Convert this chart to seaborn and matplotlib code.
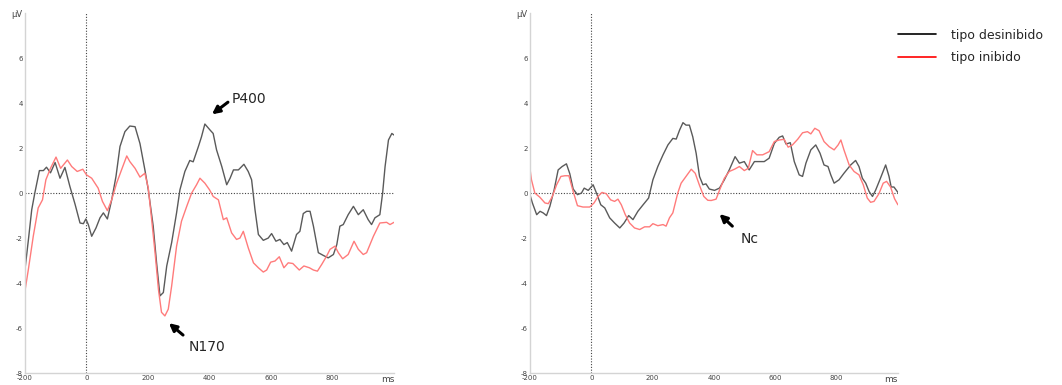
"""ERP waveforms: tipo desinibido vs tipo inibido (two electrodes)."""

import matplotlib

matplotlib.use("Agg")
import matplotlib.pyplot as plt
import pandas as pd
import seaborn as sns
from matplotlib.lines import Line2D

sns.set_theme(style="white")
plt.rcParams["font.family"] = ["DejaVu Sans"]

GROUPS = ["tipo desinibido", "tipo inibido"]
LINE_COLORS = {"tipo desinibido": "#5a5a5a", "tipo inibido": "#ff7b7b"}
LEGEND_COLORS = ["#000000", "#ff0000"]

XTICKS = [-200, 0, 200, 400, 600, 800, 1000]
XTICK_LABELS = ["-200", "0", "200", "400", "600", "800", "ms"]
YTICKS = [-8, -6, -4, -2, 0, 2, 4, 6, 8]
YTICK_LABELS = ["-8", "-6", "-4", "-2", "0", "2", "4", "6", "µV"]

# left panel
left_des_t = [-200, -189, -178, -168, -153, -140, -130, -117, -102, -86, -70, -54, -37, -21, -10,
              -2, 6, 17, 31, 44, 55, 68, 82, 96, 109, 125, 141, 158, 174, 190, 201, 217, 228, 239,
              250, 261, 277, 293, 304, 320, 336, 347, 364, 374, 385, 402, 412, 423, 440, 456, 467,
              478, 494, 512, 526, 537, 548, 559, 575, 591, 602, 616, 629, 642, 653, 667, 683, 694,
              705, 716, 727, 738, 754, 770, 786, 803, 814, 824, 835, 851, 868, 884, 900, 916, 927,
              938, 954, 963, 971, 982, 993, 1000]
left_des_v = [-3.4, -2.1, -0.74, 0, 1.0, 1.0, 1.15, 0.9, 1.36, 0.66, 1.14, 0.3, -0.5, -1.33, -1.36,
              -1.15, -1.4, -1.92, -1.55, -1.1, -0.88, -1.15, -0.3, 0.74, 2.07, 2.73, 2.98, 2.95, 2.2,
              1.03, 0.15, -1.47, -3.1, -4.57, -4.42, -3.24, -2.2, -0.88, 0.15, 0.96, 1.45, 1.39, 2.07,
              2.5, 3.07, 2.8, 2.65, 1.92, 1.18, 0.37, 0.66, 1.03, 1.03, 1.28, 0.96, 0.59, -0.74, -1.84,
              -2.1, -2.0, -1.8, -2.14, -2.06, -2.29, -2.2, -2.58, -1.84, -1.7, -0.91, -0.81, -0.81,
              -1.47, -2.65, -2.77, -2.88, -2.73, -2.29, -1.47, -1.4, -0.96, -0.59, -0.96, -0.74, -1.18,
              -1.4, -1.1, -0.96, 0, 1.18, 2.36, 2.65, 2.58]
left_ini_t = [-200, -189, -173, -157, -143, -132, -117, -99, -84, -62, -48, -30, -12, 0, 17, 38, 52,
              68, 82, 98, 114, 131, 141, 158, 174, 190, 201, 212, 223, 234, 244, 255, 266, 277, 293,
              309, 326, 342, 358, 369, 385, 400, 412, 429, 445, 456, 472, 488, 499, 510, 526, 543,
              559, 575, 586, 599, 613, 627, 642, 656, 671, 692, 707, 725, 738, 751, 765, 781, 792,
              808, 819, 833, 851, 870, 884, 900, 911, 933, 954, 976, 987, 1000]
left_ini_v = [-4.35, -3.4, -1.92, -0.66, -0.3, 0.59, 1.1, 1.6, 1.1, 1.47, 1.18, 0.96, 1.06, 0.81,
              0.66, 0.22, -0.37, -0.78, -0.3, 0.44, 1.03, 1.65, 1.4, 1.1, 0.71, 0.88, 0.22, -1.18,
              -2.65, -4.28, -5.3, -5.46, -5.16, -4.13, -2.36, -1.25, -0.59, 0, 0.37, 0.66, 0.44, 0.15,
              -0.15, -0.3, -1.18, -1.1, -1.77, -2.06, -2.0, -1.7, -2.43, -3.1, -3.32, -3.51, -3.42,
              -3.07, -3.02, -2.83, -3.32, -3.1, -3.13, -3.42, -3.24, -3.32, -3.42, -3.47, -3.17, -2.8,
              -2.5, -2.36, -2.65, -2.92, -2.73, -2.14, -2.5, -2.73, -2.65, -1.92, -1.33, -1.3, -1.4,
              -1.3]

# right panel
right_des_t = [-200, -192, -178, -167, -157, -146, -135, -121, -108, -95, -81, -70, -59, -45, -32,
               -23, -10, 6, 17, 31, 44, 60, 76, 93, 107, 122, 136, 152, 169, 187, 201, 217, 234, 250,
               266, 277, 288, 299, 309, 320, 331, 342, 353, 364, 374, 385, 402, 418, 434, 450, 469,
               483, 499, 515, 532, 548, 564, 580, 597, 613, 624, 635, 649, 662, 678, 689, 700, 716,
               732, 746, 759, 772, 781, 792, 808, 824, 846, 862, 873, 884, 895, 906, 917, 927, 941,
               960, 971, 978, 987, 1000]
right_des_v = [-0.07, -0.44, -0.96, -0.81, -0.88, -1.0, -0.59, 0.15, 1.03, 1.18, 1.3, 0.86, 0.18,
               -0.07, 0, 0.22, 0.12, 0.37, 0, -0.52, -0.66, -1.1, -1.33, -1.55, -1.33, -1.0, -1.18,
               -0.81, -0.52, -0.22, 0.59, 1.18, 1.7, 2.14, 2.43, 2.4, 2.8, 3.13, 3.02, 3.02, 2.5, 1.77,
               0.74, 0.37, 0.41, 0.18, 0.12, 0.22, 0.59, 1.03, 1.62, 1.33, 1.4, 1.03, 1.4, 1.4, 1.4,
               1.55, 2.21, 2.48, 2.54, 2.18, 2.24, 1.4, 0.81, 0.74, 1.33, 1.92, 2.14, 1.77, 1.25, 1.18,
               0.81, 0.44, 0.59, 0.88, 1.25, 1.45, 1.18, 0.66, 0.44, 0.07, -0.15, 0.12, 0.59, 1.25,
               0.74, 0.27, 0.27, 0.03]
right_ini_t = [-200, -195, -184, -168, -151, -140, -127, -113, -99, -86, -73, -59, -45, -27, -5, 9,
               22, 35, 49, 63, 76, 87, 98, 111, 125, 141, 158, 174, 190, 201, 217, 234, 244, 255, 266,
               282, 293, 309, 326, 339, 353, 367, 380, 391, 407, 418, 434, 450, 467, 483, 499, 512,
               526, 540, 559, 580, 597, 613, 629, 642, 656, 673, 689, 705, 716, 729, 743, 759, 776,
               792, 805, 814, 824, 841, 857, 873, 887, 900, 911, 922, 938, 952, 963, 976, 989, 1000]
right_ini_v = [1.1, 0.59, 0, -0.18, -0.44, -0.47, -0.15, 0.37, 0.74, 0.77, 0.77, 0.07, -0.56, -0.62,
               -0.62, -0.44, -0.15, 0.03, -0.03, -0.3, -0.37, -0.27, -0.52, -0.96, -1.33, -1.55,
               -1.62, -1.5, -1.5, -1.36, -1.45, -1.4, -1.47, -1.1, -0.88, 0, 0.44, 0.74, 1.06, 0.88,
               0.34, -0.15, -0.32, -0.33, -0.27, 0.12, 0.66, 0.96, 1.06, 1.18, 1.0, 1.1, 1.89, 1.7,
               1.7, 1.84, 2.29, 2.36, 2.39, 2.04, 2.14, 2.39, 2.68, 2.73, 2.63, 2.88, 2.77, 2.29,
               2.06, 1.92, 2.14, 2.36, 1.92, 1.25, 0.96, 0.81, 0.37, -0.22, -0.41, -0.37, -0.03, 0.44,
               0.52, 0.27, -0.25, -0.52]

# (label, arrow tip, arrow tail, text position)
left_notes = [("P400", (408, 3.5), (460, 4.04), (472, 4.2)),
              ("N170", (268, -5.78), (314, -6.31), (333, -6.85))]
right_notes = [("Nc", (418, -0.93), (460, -1.47), (486, -2.05))]


def long_form(des_t, des_v, ini_t, ini_v):
    a = pd.DataFrame({"t": des_t, "v": des_v, "tipo": GROUPS[0]})
    b = pd.DataFrame({"t": ini_t, "v": ini_v, "tipo": GROUPS[1]})
    return pd.concat([a, b], ignore_index=True)


def draw_panel(ax, df, notes):
    sns.lineplot(data=df, x="t", y="v", hue="tipo", hue_order=GROUPS, palette=LINE_COLORS,
                 estimator=None, sort=False, legend=False, linewidth=1.0, ax=ax)
    ax.axhline(0, color="#444444", lw=0.8, ls=(0, (1, 1.5)), zorder=0)
    ax.axvline(0, color="#444444", lw=0.8, ls=(0, (1, 1.5)), zorder=0)
    ax.set_xlim(-200, 1000)
    ax.set_ylim(-8, 8)
    ax.set_xticks(XTICKS)
    ax.set_xticklabels(XTICK_LABELS, fontsize=5, color="#444444")
    ax.set_yticks(YTICKS)
    ax.set_yticklabels(YTICK_LABELS, fontsize=5, color="#444444")
    ax.get_xticklabels()[-1].set_fontsize(6.5)
    ax.get_xticklabels()[-1].set_ha("right")
    ax.get_yticklabels()[-1].set_fontsize(6)
    ax.tick_params(length=0, pad=1.5)
    ax.set_xlabel("")
    ax.set_ylabel("")
    for side in ["top", "right"]:
        ax.spines[side].set_visible(False)
    for side in ["left", "bottom"]:
        ax.spines[side].set_color("#d4d4d4")
        ax.spines[side].set_linewidth(1.0)
    for label, tip, tail, pos in notes:
        ax.annotate("", xy=tip, xytext=tail,
                    arrowprops=dict(arrowstyle="-|>", color="black", lw=2.2, mutation_scale=11,
                                    shrinkA=0, shrinkB=0))
        ax.text(pos[0], pos[1], label, fontsize=10, va="center", ha="left")


def main() -> None:
    fig = plt.figure(figsize=(10.62, 3.85), dpi=100)
    ax1 = fig.add_axes([0.0235, 0.031, 0.3475, 0.935])
    ax2 = fig.add_axes([0.499, 0.031, 0.3465, 0.935])

    draw_panel(ax1, long_form(left_des_t, left_des_v, left_ini_t, left_ini_v), left_notes)
    draw_panel(ax2, long_form(right_des_t, right_des_v, right_ini_t, right_ini_v), right_notes)

    handles = [Line2D([], [], color=c, lw=1.2) for c in LEGEND_COLORS]
    fig.legend(handles, GROUPS, loc="upper left", bbox_to_anchor=(0.835, 0.955), frameon=False,
               fontsize=9, handlelength=3.0, handletextpad=1.2, labelspacing=0.75)

    fig.savefig("out.png", dpi=100)
    plt.close(fig)


if __name__ == "__main__":
    main()
